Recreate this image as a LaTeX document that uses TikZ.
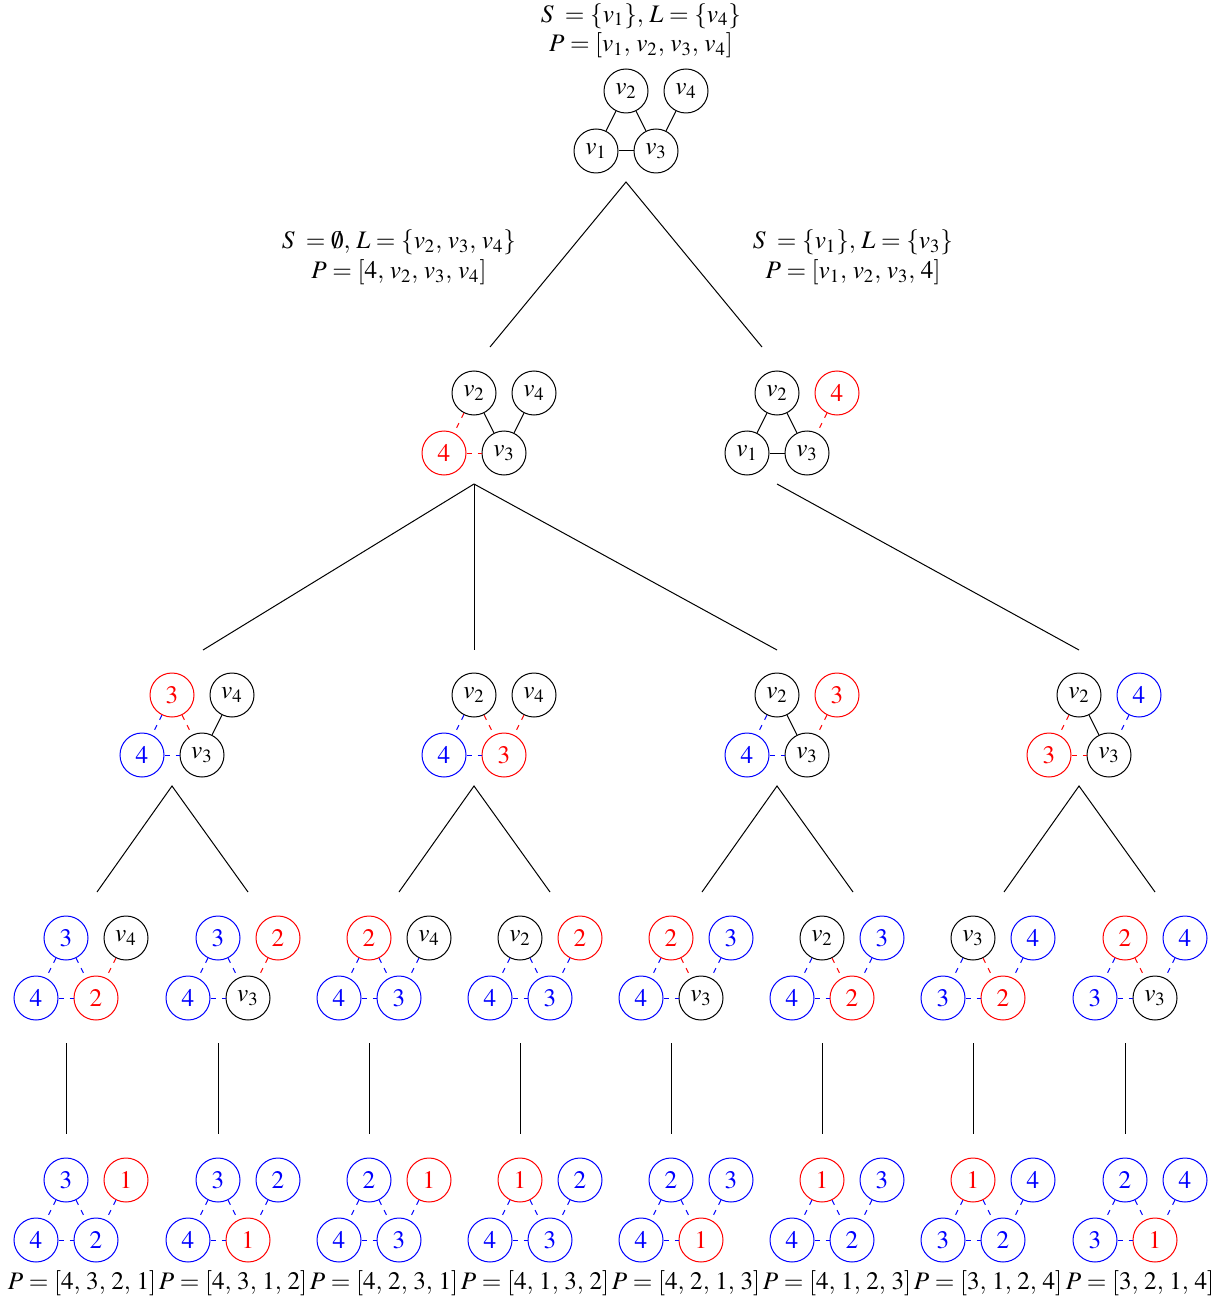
\documentclass[tikz,border=0pt]{standalone}
\usepackage{mathptmx}
\usepackage{fontspec}
\setmainfont{Liberation Serif}
\colorlet{ck}{black}
\colorlet{cr}{red}
\colorlet{cb}{blue}
\tikzset{
  vx/.style={circle,draw=c#1,text=c#1,minimum size=22pt,inner sep=0pt,line width=0.5pt},
  solidk/.style={draw=black,line width=0.5pt},
  dashr/.style={draw=red,line width=0.5pt,dash pattern=on 2.6pt off 3pt},
  dashb/.style={draw=blue,line width=0.5pt,dash pattern=on 2.6pt off 3pt},
  treeline/.style={draw=black,line width=0.5pt},
  lbl/.style={inner sep=0pt}
}
\def\splitfour#1#2#3#4{\def\cA{#1}\def\cB{#2}\def\cC{#3}\def\cD{#4}}
\newcommand\estyle[2]{%
  \def\curst{solidk}%
  \if#1r\def\curst{dashr}\fi \if#2r\def\curst{dashr}\fi
  \if#1b\def\curst{dashb}\fi \if#2b\def\curst{dashb}\fi}
\newcommand\gedge[4]{\estyle{#1}{#2}\expandafter\draw\expandafter[\curst] (#3) -- (#4);}
\newcommand\cm{,\,}
% #1 name, #2 x0, #3 y0, #4 colours TL TR BL BR, #5-#8 texts
\newcommand\gr[8]{%
  \splitfour#4%
  \node[vx=\cA] (#1a) at (#2+30,#3) {#5};
  \node[vx=\cB] (#1b) at (#2+90,#3) {#6};
  \node[vx=\cC] (#1c) at (#2,#3+60) {#7};
  \node[vx=\cD] (#1d) at (#2+60,#3+60) {#8};
  \gedge{\cA}{\cC}{#1a}{#1c}
  \gedge{\cA}{\cD}{#1a}{#1d}
  \gedge{\cC}{\cD}{#1c}{#1d}
  \gedge{\cB}{\cD}{#1b}{#1d}
}
\begin{document}
\begin{tikzpicture}[x=0.5pt,y=-0.5pt,font=\fontsize{12.6}{15}\selectfont]
\useasboundingbox (0,0) rectangle (1224,1299);
% root
\node[lbl] (t0a) at (641,16) {$S\;=\{v_1\}\cm L=\{v_4\}$};
\node[lbl] (t0b) at (641,45) {$P=[v_1\cm v_2\cm v_3\cm v_4]$};
\gr{r}{596}{91}{kkkk}{$v_2$}{$v_4$}{$v_1$}{$v_3$}
% level 1
\node[lbl] (tla) at (399,242) {$S\;=\emptyset\cm L=\{v_2\cm v_3\cm v_4\}$};
\node[lbl] (tlb) at (399,272) {$P=[4\cm v_2\cm v_3\cm v_4]$};
\node[lbl] (tra) at (853,242) {$S\;=\{v_1\}\cm L=\{v_3\}$};
\node[lbl] (trb) at (853,272) {$P=[v_1\cm v_2\cm v_3\cm 4]$};
\gr{L}{444}{393}{kkrk}{$v_2$}{$v_4$}{$4$}{$v_3$}
\gr{R}{747}{393}{krkk}{$v_2$}{$4$}{$v_1$}{$v_3$}
% level 2
\gr{A}{142}{695}{rkbk}{$3$}{$v_4$}{$4$}{$v_3$}
\gr{B}{444}{695}{kkbr}{$v_2$}{$v_4$}{$4$}{$3$}
\gr{C}{747}{695}{krbk}{$v_2$}{$3$}{$4$}{$v_3$}
\gr{D}{1049}{695}{kbrk}{$v_2$}{$4$}{$3$}{$v_3$}
% level 3
\gr{E}{36}{938}{bkbr}{$3$}{$v_4$}{$4$}{$2$}
\gr{F}{188}{938}{brbk}{$3$}{$2$}{$4$}{$v_3$}
\gr{G}{339}{938}{rkbb}{$2$}{$v_4$}{$4$}{$3$}
\gr{H}{490}{938}{krbb}{$v_2$}{$2$}{$4$}{$3$}
\gr{I}{641}{938}{rbbk}{$2$}{$3$}{$4$}{$v_3$}
\gr{J}{792}{938}{kbbr}{$v_2$}{$3$}{$4$}{$2$}
\gr{K}{943}{938}{kbbr}{$v_3$}{$4$}{$3$}{$2$}
\gr{M}{1095}{938}{rbbk}{$2$}{$4$}{$3$}{$v_3$}
% level 4
\gr{N}{36}{1180}{brbb}{$3$}{$1$}{$4$}{$2$}
\gr{O}{188}{1180}{bbbr}{$3$}{$2$}{$4$}{$1$}
\gr{Q}{339}{1180}{brbb}{$2$}{$1$}{$4$}{$3$}
\gr{S}{490}{1180}{rbbb}{$1$}{$2$}{$4$}{$3$}
\gr{T}{641}{1180}{bbbr}{$2$}{$3$}{$4$}{$1$}
\gr{U}{792}{1180}{rbbb}{$1$}{$3$}{$4$}{$2$}
\gr{W}{943}{1180}{rbbb}{$1$}{$4$}{$3$}{$2$}
\gr{X}{1095}{1180}{bbbr}{$2$}{$4$}{$3$}{$1$}
% bottom labels
\node[lbl] (pa) at (82,1283) {$P=[4\cm 3\cm 2\cm 1]$};
\node[lbl] (pb) at (233,1283) {$P=[4\cm 3\cm 1\cm 2]$};
\node[lbl] (pc) at (384,1283) {$P=[4\cm 2\cm 3\cm 1]$};
\node[lbl] (pd) at (535,1283) {$P=[4\cm 1\cm 3\cm 2]$};
\node[lbl] (pe) at (686,1283) {$P=[4\cm 2\cm 1\cm 3]$};
\node[lbl] (pf) at (837,1283) {$P=[4\cm 1\cm 2\cm 3]$};
\node[lbl] (pg) at (988,1283) {$P=[3\cm 1\cm 2\cm 4]$};
\node[lbl] (ph) at (1140,1283) {$P=[3\cm 2\cm 1\cm 4]$};
% tree connectors
\coordinate (c0) at (626,182);
\coordinate (c0l) at (490,347);
\coordinate (c0r) at (762,347);
\draw[treeline] (c0l) -- (c0) -- (c0r);
\coordinate (cl) at (474,484);
\coordinate (cla) at (203,650);
\coordinate (clb) at (474,650);
\coordinate (clc) at (777,650);
\draw[treeline] (cl) -- (cla);
\draw[treeline] (cl) -- (clb);
\draw[treeline] (cl) -- (clc);
\coordinate (cr) at (777,484);
\coordinate (crd) at (1079,650);
\draw[treeline] (cr) -- (crd);
\foreach \px/\ca/\cb in {172/97/248,474/399/550,777/702/853,1079/1004/1155}{
  \coordinate (p\px) at (\px,786);
  \coordinate (q\ca) at (\ca,892);
  \coordinate (q\cb) at (\cb,892);
  \draw[treeline] (q\ca) -- (p\px) -- (q\cb);
}
\foreach \vx in {66,218,369,520,671,822,973,1125}{
  \coordinate (u\vx) at (\vx,1043);
  \coordinate (w\vx) at (\vx,1134);
  \draw[treeline] (u\vx) -- (w\vx);
}
\end{tikzpicture}
\end{document}
